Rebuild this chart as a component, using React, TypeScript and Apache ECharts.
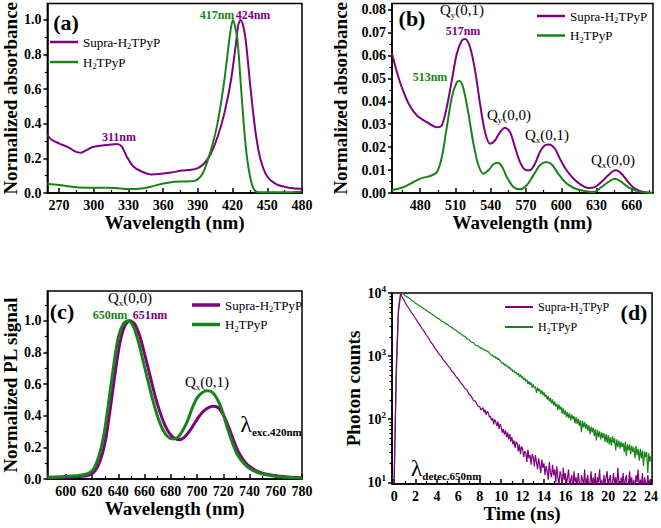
import React, { useEffect, useRef } from 'react';
import * as echarts from 'echarts';

// ---------- DATA ----------
const seriesNames = ['Supra-H2TPyP', 'H2TPyP'];

// (a) UV-vis absorbance
const aSupraWl = [260, 264, 270, 278.6, 284.3, 288.6, 292.9, 298.6, 307.2, 312.9, 320, 324.3, 328.6, 334.3, 341.4, 350, 358.6, 367.1, 375.7, 384.3, 390, 395.7, 401.4, 407.1, 412.9, 418.6, 422.9, 424.9, 427, 429.2, 431.4, 435.7, 440, 444.3, 450, 458.6, 470, 480];
const aSupraAbs = [0.335, 0.306, 0.287, 0.262, 0.239, 0.233, 0.245, 0.264, 0.274, 0.278, 0.283, 0.268, 0.21, 0.153, 0.124, 0.107, 0.111, 0.118, 0.13, 0.134, 0.144, 0.172, 0.23, 0.325, 0.46, 0.65, 0.862, 0.97, 1.0, 0.965, 0.881, 0.594, 0.345, 0.191, 0.095, 0.048, 0.029, 0.025];
const aFreeWl = [260, 270, 287, 307, 318.6, 330, 341.4, 350, 358.6, 370, 381.4, 387, 390, 393, 395.7, 401.4, 407, 412.9, 417.1, 419, 420.5, 422.2, 424.3, 427.7, 431.4, 435.1, 438.6, 442.9, 464.3, 480];
const aFreeAbs = [0.053, 0.046, 0.032, 0.03, 0.029, 0.023, 0.026, 0.038, 0.052, 0.065, 0.067, 0.07, 0.08, 0.1, 0.134, 0.249, 0.402, 0.651, 0.881, 0.97, 1.0, 0.96, 0.881, 0.575, 0.268, 0.095, 0.019, 0.004, 0.004, 0.009];

// (b) Q-band absorbance
const bSupraWl = [456, 460.2, 464.5, 470.2, 477.2, 485.7, 494.2, 498.4, 502.6, 506.9, 511.1, 515.4, 518.2, 522.4, 526.7, 530.9, 535.1, 539.4, 543.6, 547.9, 552.1, 556.4, 560.6, 564.9, 569.1, 573.3, 577.6, 581.8, 586.1, 589.8, 594.6, 598.8, 604.5, 610.2, 617.2, 622.9, 628.5, 634.2, 639.9, 644.1, 646.4, 651.2, 656.8, 662.5, 669.6, 677.5];
const bSupraAbs = [0.0607, 0.0527, 0.0459, 0.0389, 0.0338, 0.0309, 0.0287, 0.0295, 0.0375, 0.0491, 0.0607, 0.0665, 0.0672, 0.0636, 0.0534, 0.0389, 0.0266, 0.0215, 0.0229, 0.0266, 0.0285, 0.0266, 0.02, 0.0135, 0.0102, 0.0099, 0.0128, 0.0179, 0.0208, 0.0212, 0.0193, 0.015, 0.0099, 0.0063, 0.0034, 0.0022, 0.0026, 0.0048, 0.0077, 0.0096, 0.0099, 0.0084, 0.0048, 0.0019, 0.0004, 0.0];
const bFreeWl = [456, 465.9, 474.4, 481.4, 488.5, 494.2, 498.4, 502.6, 506.9, 511.1, 513.4, 516.8, 521, 525.3, 529.5, 533.8, 538, 542.3, 545.7, 549.3, 553.6, 559.3, 564.9, 570.6, 576.2, 581.8, 586.9, 591.8, 597.4, 603.1, 610.2, 618.7, 627.1, 634.2, 639.9, 645.5, 651.2, 656.8, 663.9, 677.5];
const bFreeAbs = [0.0012, 0.0026, 0.0048, 0.0065, 0.0074, 0.0091, 0.0157, 0.0287, 0.0418, 0.0483, 0.0488, 0.0455, 0.0346, 0.0215, 0.0121, 0.0084, 0.0099, 0.0125, 0.0132, 0.0118, 0.007, 0.0026, 0.0016, 0.0034, 0.0077, 0.0121, 0.0135, 0.0125, 0.0084, 0.0048, 0.0023, 0.001, 0.0004, 0.0026, 0.0048, 0.0062, 0.0048, 0.0026, 0.001, 0.0];

// (c) photoluminescence
const cSupraWl = [586, 602.4, 612.4, 618.7, 622.4, 626.2, 630, 633.7, 637.5, 641.3, 645, 648.8, 652.6, 656.3, 660.1, 663.9, 667.7, 671.4, 675.2, 679, 682.7, 686.5, 690.3, 694, 697.8, 701.6, 705.4, 709.1, 712.9, 716.7, 720.4, 724.2, 728, 731.8, 736.8, 741.8, 749.4, 759.5, 769.5, 780];
const cSupraPL = [0.006, 0.011, 0.017, 0.027, 0.053, 0.116, 0.232, 0.432, 0.663, 0.863, 0.968, 1.0, 0.979, 0.905, 0.789, 0.663, 0.537, 0.432, 0.347, 0.288, 0.259, 0.248, 0.263, 0.299, 0.347, 0.396, 0.432, 0.453, 0.459, 0.446, 0.4, 0.326, 0.242, 0.168, 0.105, 0.069, 0.038, 0.021, 0.013, 0.008];
const cFreeWl = [586, 602.4, 612.4, 617.4, 621.2, 625, 628.7, 632.5, 636.3, 640, 643.8, 647.6, 651.3, 655.1, 658.9, 662.6, 666.4, 670.2, 674, 677.7, 681.5, 685.3, 689, 692.8, 696.6, 700.4, 704.1, 707.9, 711.7, 715.4, 719.2, 723, 726.8, 730.5, 735.6, 740.6, 748.1, 758.2, 768.2, 780];
const cFreePL = [0.011, 0.017, 0.025, 0.036, 0.063, 0.137, 0.263, 0.474, 0.705, 0.895, 0.979, 1.0, 0.968, 0.874, 0.747, 0.621, 0.495, 0.389, 0.311, 0.267, 0.253, 0.263, 0.305, 0.368, 0.453, 0.516, 0.547, 0.558, 0.547, 0.505, 0.432, 0.326, 0.232, 0.158, 0.099, 0.063, 0.036, 0.019, 0.011, 0.006];

// (d) time-resolved PL decay (photon counts)
const dTime = [
  -0.2, 0.0, 0.2, 0.4, 0.6, 0.8, 1.0, 1.2, 1.4, 1.6, 1.8, 2.0, 2.2, 2.4, 2.6, 2.8, 3.0, 3.2, 3.4, 3.6, 3.8, 4.0, 4.2, 4.4, 4.6, 4.8, 5.0, 5.2, 5.4, 5.6, 5.8, 6.0, 6.2, 6.4, 6.6, 6.8, 7.0, 7.2, 7.4, 7.6, 7.8,
  8.0, 8.1, 8.2, 8.3, 8.4, 8.5, 8.6, 8.7, 8.8, 8.9, 9.0, 9.1, 9.2, 9.3, 9.4, 9.5, 9.6, 9.7, 9.8, 9.9,
  10.0, 10.1, 10.2, 10.3, 10.4, 10.5, 10.6, 10.7, 10.8, 10.9, 11.0, 11.1, 11.2, 11.3, 11.4, 11.5, 11.6, 11.7, 11.8, 11.9,
  12.0, 12.1, 12.2, 12.3, 12.4, 12.5, 12.6, 12.7, 12.8, 12.9, 13.0, 13.1, 13.2, 13.3, 13.4, 13.5, 13.6, 13.7, 13.8, 13.9,
  14.0, 14.1, 14.2, 14.3, 14.4, 14.5, 14.6, 14.7, 14.8, 14.9, 15.0, 15.1, 15.2, 15.3, 15.4, 15.5, 15.6, 15.7, 15.8, 15.9,
  16.0, 16.1, 16.2, 16.3, 16.4, 16.5, 16.6, 16.7, 16.8, 16.9, 17.0, 17.1, 17.2, 17.3, 17.4, 17.5, 17.6, 17.7, 17.8, 17.9,
  18.0, 18.1, 18.2, 18.3, 18.4, 18.5, 18.6, 18.7, 18.8, 18.9, 19.0, 19.1, 19.2, 19.3, 19.4, 19.5, 19.6, 19.7, 19.8, 19.9,
  20.0, 20.1, 20.2, 20.3, 20.4, 20.5, 20.6, 20.7, 20.8, 20.9, 21.0, 21.1, 21.2, 21.3, 21.4, 21.5, 21.6, 21.7, 21.8, 21.9,
  22.0, 22.1, 22.2, 22.3, 22.4, 22.5, 22.6, 22.7, 22.8, 22.9, 23.0, 23.1, 23.2, 23.3, 23.4, 23.5, 23.6, 23.7, 23.8, 23.9, 24.0,
];
const dSupraCounts = [
  9, 9, 700, 5600, 9600, 8400, 7250, 6280, 5630, 4960, 4440, 3940, 3480, 3120, 2740, 2460, 2160, 1950, 1700, 1540, 1340, 1210, 1070, 990, 865, 800, 712, 652, 575, 530, 466, 432, 380, 352, 306, 290, 248, 233, 200, 192, 162,
  158, 139, 147, 152, 128, 141, 117, 133, 126, 108, 112, 95, 104, 83, 99, 90, 78, 92, 70, 84,
  74, 61, 70, 57, 66, 52, 62, 48, 58, 44, 52, 40, 46, 35, 44, 41, 31, 40, 28, 37,
  34, 25, 31, 29, 21, 33, 24, 27, 19, 28, 25, 18, 27, 21, 16, 24, 19, 14, 23, 17,
  20, 13, 18, 15, 11, 21, 14, 12, 19, 13, 16, 10, 18, 12, 9, 15, 13, 8, 17, 11,
  14, 9, 12, 16, 8, 11, 13, 7, 15, 10, 12, 8, 14, 10, 7, 13, 11, 9, 16, 8,
  11, 13, 7, 10, 15, 8, 12, 9, 14, 7, 12, 10, 16, 8, 11, 7, 13, 9, 12, 15,
  8, 11, 13, 7, 10, 14, 9, 12, 8, 17, 10, 7, 12, 9, 14, 8, 11, 13, 7, 10,
  15, 9, 12, 8, 11, 7, 13, 10, 16, 8, 11, 9, 14, 7, 12, 10, 8, 13, 9, 11, 10,
];
const dFreeCounts = [
  12, 12, 450, 4800, 9500, 9800, 9150, 8680, 8350, 7730, 7360, 6890, 6590, 6190, 5930, 5570, 5340, 5010, 4810, 4500, 4330, 4040, 3890, 3630, 3500, 3270, 3150, 2940, 2840, 2640, 2560, 2370, 2290, 2110, 2050, 1870, 1830, 1670, 1630, 1480, 1460,
  1372, 1318, 1341, 1290, 1262, 1228, 1251, 1176, 1180, 1102, 1078, 1012, 1040, 965, 990, 921, 948, 880, 905, 838,
  812, 760, 781, 716, 742, 680, 705, 640, 668, 602, 628, 566, 590, 540, 556, 505, 534, 470, 512, 452,
  478, 420, 450, 395, 425, 360, 398, 352, 380, 318, 356, 310, 330, 262, 318, 278, 300, 252, 286, 240,
  268, 226, 246, 205, 232, 192, 218, 178, 206, 166, 192, 158, 176, 140, 170, 142, 158, 122, 150, 118,
  138, 108, 130, 104, 124, 96, 118, 100, 112, 86, 108, 84, 102, 78, 96, 62, 94, 74, 90, 70,
  84, 66, 80, 58, 76, 62, 74, 54, 70, 46, 68, 52, 64, 48, 62, 50, 60, 44, 58, 42,
  56, 40, 52, 38, 54, 42, 50, 32, 48, 36, 46, 34, 44, 36, 42, 30, 44, 26, 40, 32,
  40, 28, 38, 30, 36, 24, 38, 27, 34, 22, 34, 24, 32, 18, 31, 25, 30, 14, 29, 21, 26,
];

// tick values
const aXMajor = [270, 300, 330, 360, 390, 420, 450, 480];
const aXMinor = [285, 315, 345, 375, 405, 435, 465];
const aYMajor = [0, 0.2, 0.4, 0.6, 0.8, 1.0];
const aYMinor = [0.1, 0.3, 0.5, 0.7, 0.9];
const bXMajor = [480, 510, 540, 570, 600, 630, 660];
const bXMinor = [465, 495, 525, 555, 585, 615, 645, 675];
const bYMajor = [0, 0.01, 0.02, 0.03, 0.04, 0.05, 0.06, 0.07, 0.08];
const bYMinor = [0.005, 0.015, 0.025, 0.035, 0.045, 0.055, 0.065, 0.075];
const cXMajor = [600, 620, 640, 660, 680, 700, 720, 740, 760, 780];
const cXMinor = [590, 610, 630, 650, 670, 690, 710, 730, 750, 770];
const cYMajor = [0, 0.2, 0.4, 0.6, 0.8, 1.0];
const cYMinor = [0.1, 0.3, 0.5, 0.7, 0.9, 1.1];
const dXMajor = [0, 2, 4, 6, 8, 10, 12, 14, 16, 18, 20, 22, 24];
const dXMinor = [1, 3, 5, 7, 9, 11, 13, 15, 17, 19, 21, 23];
const dYMajor = [10, 100, 1000, 10000];
const dYMinor = [20, 30, 40, 50, 60, 70, 80, 90, 200, 300, 400, 500, 600, 700, 800, 900, 2000, 3000, 4000, 5000, 6000, 7000, 8000, 9000];

// ---------- STYLE ----------
const PURPLE = '#800080';
const GREEN = '#178417';
const SERIF = 'Liberation Serif';
const BLACK = '#000';

const legendRich = (size: number) => ({
  n: { fontFamily: SERIF, fontSize: size, lineHeight: 16, color: BLACK },
  sub: { fontFamily: SERIF, fontSize: size * 0.65, lineHeight: 9, verticalAlign: 'bottom', color: BLACK },
});

const pairs = (xs: number[], ys: number[]) => xs.map((x, i) => [x, ys[i]]);

function xAxesFor(grid: number, min: number, max: number, major: number[], minor: number[], name: string, nameGap: number, fmt?: (v: number) => string) {
  return [
    {
      type: 'value', gridIndex: grid, min, max, position: 'bottom',
      name, nameLocation: 'middle', nameGap,
      nameTextStyle: { fontFamily: SERIF, fontWeight: 'bold', fontSize: 19, color: BLACK },
      axisLine: { show: true, onZero: false, lineStyle: { color: BLACK, width: 1.5 } },
      axisTick: { show: true, inside: true, length: 5, customValues: major, lineStyle: { color: BLACK, width: 1.5 } },
      axisLabel: { show: true, customValues: major, fontFamily: SERIF, fontWeight: 'bold', fontSize: 14, color: BLACK, margin: 5, formatter: fmt || ((v: number) => String(v)) },
      splitLine: { show: false },
    },
    {
      type: 'value', gridIndex: grid, min, max, position: 'bottom',
      axisLine: { show: false, onZero: false },
      axisTick: { show: true, inside: true, length: 3, customValues: minor, lineStyle: { color: BLACK, width: 1.2 } },
      axisLabel: { show: false },
      splitLine: { show: false },
    },
  ];
}

function yAxesFor(grid: number, min: number, max: number, major: number[], minor: number[], name: string, nameGap: number, fmt: (v: number) => string, log = false) {
  const t = log ? 'log' : 'value';
  return [
    {
      type: t, gridIndex: grid, min, max, position: 'left',
      name, nameLocation: 'middle', nameGap,
      nameTextStyle: { fontFamily: SERIF, fontWeight: 'bold', fontSize: 19, color: BLACK },
      axisLine: { show: true, onZero: false, lineStyle: { color: BLACK, width: 1.5 } },
      axisTick: { show: true, inside: false, length: 4, customValues: major, lineStyle: { color: BLACK, width: 1.5 } },
      axisLabel: {
        show: true, customValues: major, fontFamily: SERIF, fontWeight: 'bold', fontSize: 14, color: BLACK, margin: 6, formatter: fmt,
        rich: { sup: { fontSize: 9, lineHeight: 9, verticalAlign: 'top', fontFamily: SERIF, fontWeight: 'bold', color: BLACK }, b: { fontSize: 14, lineHeight: 18, fontFamily: SERIF, fontWeight: 'bold', color: BLACK } },
      },
      splitLine: { show: false },
      minorTick: { show: false },
    },
    {
      type: t, gridIndex: grid, min, max, position: 'left',
      axisLine: { show: false, onZero: false },
      axisTick: { show: true, inside: false, length: 2.5, customValues: minor, lineStyle: { color: BLACK, width: 1.2 } },
      axisLabel: { show: false },
      splitLine: { show: false },
    },
  ];
}

function legendFor(left: number, top: number, iconH: number, size: number, gap: number) {
  return {
    left, top, padding: 0, orient: 'vertical', itemWidth: 28, itemHeight: iconH, itemGap: gap, icon: 'rect',
    selectedMode: false,
    data: seriesNames,
    formatter: (n: string) => '{n|' + n.replace('H2', 'H}{sub|2}{n|') + '}',
    textStyle: { fontFamily: SERIF, fontSize: size, color: BLACK, lineHeight: 16, rich: legendRich(size) },
  };
}

function txt(x: number, y: number, text: string, size: number, color: string, bold = true, rich?: any) {
  return {
    type: 'text', x, y, silent: true,
    style: {
      text, fontFamily: SERIF, fontSize: size, fontWeight: bold ? 'bold' : 'normal', fill: color,
      align: 'center', verticalAlign: 'middle', lineHeight: size + 4, rich,
    },
  };
}

const qRich = {
  q: { fontFamily: SERIF, fontSize: 15, lineHeight: 18, color: BLACK },
  s: { fontFamily: SERIF, fontSize: 9, lineHeight: 9, verticalAlign: 'bottom', color: BLACK },
};
const lamRich = (sub: number) => ({
  l: { fontFamily: SERIF, fontSize: 24, lineHeight: 26, color: BLACK },
  s: { fontFamily: SERIF, fontSize: sub, fontWeight: 'bold', lineHeight: 10, verticalAlign: 'bottom', color: BLACK },
});

function line(name: string, color: string, xi: number, yi: number, data: number[][], width: number, smooth: number | boolean) {
  return {
    type: 'line', name, xAxisIndex: xi, yAxisIndex: yi, data, showSymbol: false, symbol: 'none',
    smooth, color, lineStyle: { color, width }, itemStyle: { color }, clip: true, z: 3,
  };
}

export default function App() {
  const ref = useRef<HTMLDivElement>(null);
  useEffect(() => {
    if (!ref.current) return;
    const chart = echarts.init(ref.current, undefined, { renderer: 'svg' });
    const gridStyle = { show: true, borderColor: BLACK, borderWidth: 1.5, backgroundColor: 'transparent', containLabel: false };
    const f1 = (v: number) => v.toFixed(1);
    const f2 = (v: number) => v.toFixed(2);
    const fLog = (v: number) => `{b|10}{sup|${Math.round(Math.log10(v))}}`;
    const option: any = {
      animation: false,
      backgroundColor: '#fff',
      grid: [
        { ...gridStyle, left: 45, top: 3, width: 257, height: 190 },
        { ...gridStyle, left: 392, top: 3, width: 261, height: 190 },
        { ...gridStyle, left: 45, top: 291, width: 257, height: 188 },
        { ...gridStyle, left: 392, top: 293, width: 261, height: 191 },
      ],
      xAxis: [
        ...xAxesFor(0, 260, 480, aXMajor, aXMinor, 'Wavelength (nm)', 17),
        ...xAxesFor(1, 456, 678, bXMajor, bXMinor, 'Wavelength (nm)', 17),
        ...xAxesFor(2, 586, 780, cXMajor, cXMinor, 'Wavelength (nm)', 18),
        ...xAxesFor(3, -0.2, 24.1, dXMajor, dXMinor, 'Time (ns)', 19),
      ],
      yAxis: [
        ...yAxesFor(0, 0, 1.094, aYMajor, aYMinor, 'Normalized absorbance', 25, f1),
        ...yAxesFor(1, 0, 0.0826, bYMajor, bYMinor, 'Normalized absorbance', 42, f2),
        ...yAxesFor(2, 0, 1.188, cYMajor, cYMinor, 'Normalized PL signal', 25, f1),
        ...yAxesFor(3, 9.4, 10000, dYMajor, dYMinor, 'Photon counts', 29, fLog, true),
      ],
      legend: [
        legendFor(50, 34, 2.5, 13, 4),
        legendFor(537, 8, 2.5, 13, 3.5),
        legendFor(192, 297, 3.5, 13, 3.5),
        legendFor(505, 299, 2, 12, 4),
      ],
      series: [
        line(seriesNames[0], PURPLE, 0, 0, pairs(aSupraWl, aSupraAbs), 2, 0.3),
        line(seriesNames[1], GREEN, 0, 0, pairs(aFreeWl, aFreeAbs), 2, 0.3),
        line(seriesNames[0], PURPLE, 2, 2, pairs(bSupraWl, bSupraAbs), 2, 0.3),
        line(seriesNames[1], GREEN, 2, 2, pairs(bFreeWl, bFreeAbs), 2, 0.3),
        line(seriesNames[0], PURPLE, 4, 4, pairs(cSupraWl, cSupraPL), 3, 0.3),
        line(seriesNames[1], GREEN, 4, 4, pairs(cFreeWl, cFreePL), 3, 0.3),
        line(seriesNames[1], GREEN, 6, 6, pairs(dTime, dFreeCounts), 1.2, false),
        line(seriesNames[0], PURPLE, 6, 6, pairs(dTime, dSupraCounts), 1.2, false),
      ],
      graphic: [
        // (a)
        txt(66, 22, '(a)', 22, BLACK),
        txt(217, 15, '417nm', 12, GREEN),
        txt(253, 15, '424nm', 12, PURPLE),
        txt(119, 137, '311nm', 12, PURPLE),
        // (b)
        txt(412, 18, '(b)', 22, BLACK),
        txt(462, 10, '{q|Q}{s|y}{q|(0,1)}', 15, BLACK, false, qRich),
        txt(463, 31, '517nm', 12, PURPLE),
        txt(430, 77, '513nm', 12, GREEN),
        txt(509, 115, '{q|Q}{s|y}{q|(0,0)}', 15, BLACK, false, qRich),
        txt(547, 135, '{q|Q}{s|x}{q|(0,1)}', 15, BLACK, false, qRich),
        txt(613, 160, '{q|Q}{s|x}{q|(0,0)}', 15, BLACK, false, qRich),
        // (c)
        txt(62, 311, '(c)', 22, BLACK),
        txt(130, 298, '{q|Q}{s|x}{q|(0,0)}', 15, BLACK, false, qRich),
        txt(110, 315, '650nm', 12, GREEN),
        txt(150, 315, '651nm', 12, PURPLE),
        txt(207, 382, '{q|Q}{s|x}{q|(0,1)}', 15, BLACK, false, qRich),
        txt(271, 424, '{l|λ}{s|exc.420nm}', 24, BLACK, false, lamRich(11)),
        // (d)
        txt(634, 312, '(d)', 22, BLACK),
        txt(446, 468, '{l|λ}{s|detec.650nm}', 24, BLACK, false, lamRich(11)),
      ],
    };
    chart.setOption(option);
    return () => chart.dispose();
  }, []);
  return <div ref={ref} style={{ position: 'fixed', left: 0, top: 0, width: 661, height: 528, background: '#fff' }} />;
}
